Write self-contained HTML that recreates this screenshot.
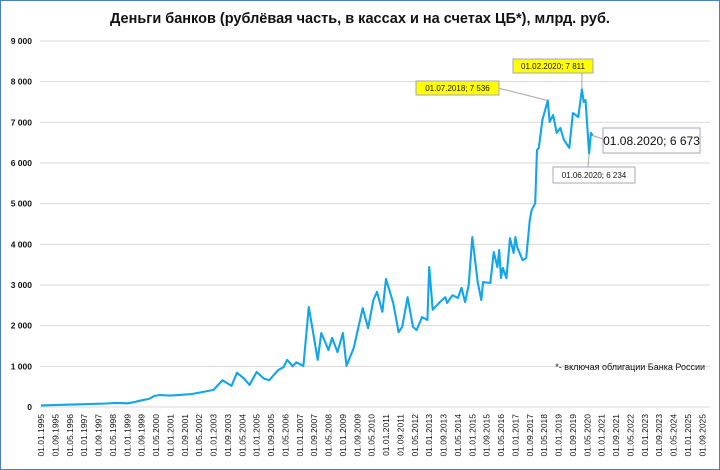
<!DOCTYPE html>
<html><head><meta charset="utf-8"><style>
body{margin:0;background:#fff}
svg{display:block;font-family:"Liberation Sans",sans-serif}
</style></head><body>
<svg width="720" height="470" viewBox="0 0 720 470">
<rect x="0.5" y="0.5" width="719" height="469" fill="#fff" stroke="#4a7ebb" stroke-width="1"/>
<text x="360" y="23" text-anchor="middle" font-size="14.5" font-weight="bold" fill="#111">Деньги банков (рублёвая часть, в кассах и на счетах ЦБ*), млрд. руб.</text>
<g id="grid"></g><g id="ylab"></g><g id="xlab"></g>
<path id="line" fill="none" stroke="#12a5ea" stroke-width="2.1" stroke-linejoin="round"/>
<g id="ann"></g>
<text x="705" y="370" text-anchor="end" font-size="9" fill="#111">*- включая облигации Банка России</text>
</svg>
<script>
// months since 01.01.1995
const months=[0,12,24,36,42,48,52,55,60,63,66,72,78,84,90,96,101,106,109,113,116,120,124,127,132,135,137,140,142,146,149,154,156,160,162,165,168,170,174,179,182,185,187,190,192,196,199,201,204,207,209,212,215,216,218,222,225,226,229,232,234,236,238,240,243,245,246,250,252,254,255,256,257,259,261,263,264,265,268,270,272,273,275,276,277,279,282,283,285,287,289,291,294,296,299,301,302,303,305,306,307];
const values=[40,55,70,85,100,90,120,155,200,270,295,280,300,320,370,420,660,520,840,700,540,860,700,660,910,980,1160,1000,1100,1010,2460,1160,1820,1400,1700,1350,1820,1010,1450,2430,1940,2630,2830,2340,3150,2560,1840,1970,2700,1970,1890,2210,2140,3440,2390,2580,2700,2560,2750,2680,2930,2580,3000,4180,3070,2630,3070,3050,3810,3440,3860,3170,3420,3170,4150,3790,4180,3930,3610,3660,4600,4840,5010,6320,6370,7060,7536,7010,7180,6740,6860,6570,6370,7230,7130,7811,7500,7550,6234,6740,6673];
const yTicks=[0,1000,2000,3000,4000,5000,6000,7000,8000,9000];
const yTickLabels=["0","1 000","2 000","3 000","4 000","5 000","6 000","7 000","8 000","9 000"];
const xTickLabels=["01.01.1995","01.09.1995","01.05.1996","01.01.1997","01.09.1997","01.05.1998","01.01.1999","01.09.1999","01.05.2000","01.01.2001","01.09.2001","01.05.2002","01.01.2003","01.09.2003","01.05.2004","01.01.2005","01.09.2005","01.05.2006","01.01.2007","01.09.2007","01.05.2008","01.01.2009","01.09.2009","01.05.2010","01.01.2011","01.09.2011","01.05.2012","01.01.2013","01.09.2013","01.05.2014","01.01.2015","01.09.2015","01.05.2016","01.01.2017","01.09.2017","01.05.2018","01.01.2019","01.09.2019","01.05.2020","01.01.2021","01.09.2021","01.05.2022","01.01.2023","01.09.2023","01.05.2024","01.01.2025","01.09.2025"];
const NS="http://www.w3.org/2000/svg";
const xs=m=>41+m*1.797;
const ys=v=>407-v*0.04067;
function mk(t,a,p){const e=document.createElementNS(NS,t);for(const k in a)e.setAttribute(k,a[k]);p.appendChild(e);return e;}
const grid=document.getElementById('grid'),yl=document.getElementById('ylab'),xl=document.getElementById('xlab');
yTicks.forEach((v,i)=>{
 const g=mk('line',{x1:40,x2:710,y1:ys(v),y2:ys(v),stroke:'#d9d9d9','stroke-width':1},grid);
 
 
 const t=mk('text',{x:32,y:ys(v)+3,'text-anchor':'end','font-size':8.5,'font-weight':'bold',fill:'#111'},yl);
 t.textContent=yTickLabels[i];
 
 
});
xTickLabels.forEach((s,i)=>{
 const x=xs(i*8);
 const t=mk('text',{x:0,y:0,transform:`translate(${x+3},414) rotate(-90)`,'text-anchor':'end','font-size':8.5,fill:'#111'},xl);
 t.textContent=s;
 
 
});
document.getElementById('line').setAttribute('d',months.map((m,i)=>(i?'L':'M')+xs(m).toFixed(1)+','+ys(values[i]).toFixed(1)).join(''));
const ann=document.getElementById('ann');
function label(idx,bx,by,w,h,text,fs,fill,lx,ly,name){
 const px=xs(months[idx]),py=ys(values[idx]);
 const l=mk('line',{x1:lx,y1:ly,x2:px,y2:py,stroke:'#a6a6a6','stroke-width':1},ann);
 
 
 const r=mk('rect',{x:bx,y:by,width:w,height:h,fill:fill,stroke:'#a6a6c6','stroke-width':1},ann);
 
 
 const t=mk('text',{x:bx+w/2,y:by+h/2+fs*0.36,'text-anchor':'middle','font-size':fs,fill:'#111'},ann);
 t.textContent=text;
 
 
}
const i18=months.indexOf(282),i20=months.indexOf(301),i06=months.indexOf(305),i08=months.indexOf(307);
label(i18,416,81,83,14,'01.07.2018; 7 536',8,'#ffff00',498,88,'label-jul-2018');
label(i20,513,59,80,14,'01.02.2020; 7 811',8,'#ffff00',582,73,'label-feb-2020');
label(i08,603,128,97,25,'01.08.2020; 6 673',12,'#fff',603,139,'label-aug-2020');
label(i06,553,167,82,16,'01.06.2020; 6 234',8,'#fff',588,167,'label-jun-2020');
</script>
</body></html>
